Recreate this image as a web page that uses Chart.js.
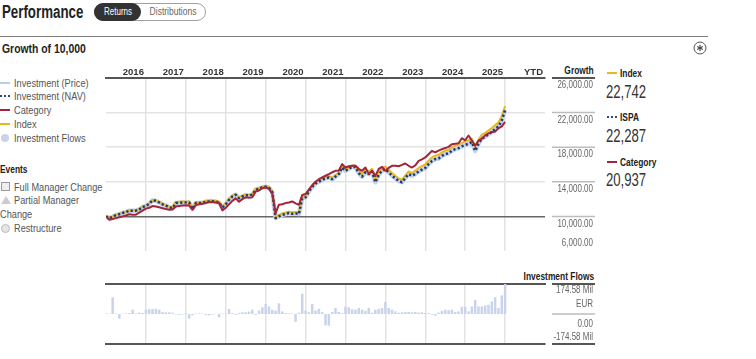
<!DOCTYPE html>
<html><head><meta charset="utf-8">
<script src="https://cdn.jsdelivr.net/npm/chart.js@4.4.1/dist/chart.umd.min.js"></script>
<style>
*{box-sizing:border-box}
body{margin:0;width:756px;height:359px;overflow:hidden;background:#fff;font-family:'Liberation Sans',Arial,sans-serif;color:#333;position:relative}
.a{position:absolute;white-space:nowrap;transform-origin:left center}
.r{transform-origin:right center;text-align:right}
.lg{left:14px;font-size:11.5px;line-height:14px;color:#555;transform:scaleX(.8)}
.hb{font-size:10.5px;line-height:14px;font-weight:bold;color:#222;transform:scaleX(.8)}
.big{left:606px;font-size:17.5px;line-height:21px;color:#333;transform:scaleX(.75)}
.sym{position:absolute}
canvas{position:absolute;left:0}
</style></head><body>
<div class="a" style="left:2px;top:1px;font-size:17.5px;line-height:22px;font-weight:bold;color:#222;transform:scaleX(.76)">Performance</div>
<div class="a" style="left:94px;top:3px;width:112px;height:18px;border:1px solid #a0a0a0;border-radius:9px"></div>
<div class="a" style="left:94px;top:3px;width:47px;height:18px;border-radius:9px;background:#333"></div>
<div class="a" style="left:117.5px;top:3px;color:#fff;font-size:10px;line-height:18px;transform:translateX(-50%) scaleX(.8);transform-origin:center">Returns</div>
<div class="a" style="left:173px;top:3px;color:#666;font-size:10px;line-height:18px;transform:translateX(-50%) scaleX(.85);transform-origin:center">Distributions</div>
<div class="a" style="left:0;top:36px;width:708px;height:1px;background:#808080"></div>
<div class="a" style="left:2px;top:40px;font-size:13.5px;line-height:17px;font-weight:bold;color:#222;transform:scaleX(.77)">Growth of 10,000</div>
<svg class="a" style="left:693px;top:41px" width="14" height="14" viewBox="0 0 14 14">
 <circle cx="7" cy="7" r="6" fill="none" stroke="#555" stroke-width="1"/>
 <g stroke="#444" stroke-width="1.1"><line x1="7" y1="3.8" x2="7" y2="10.2"/><line x1="4.2" y1="5.4" x2="9.8" y2="8.6"/><line x1="4.2" y1="8.6" x2="9.8" y2="5.4"/></g>
</svg>

<div class="sym" style="left:0;top:82px;width:10px;height:2px;background:#b9cce8"></div>
<div class="a lg" style="top:76px">Investment (Price)</div>
<div class="sym" style="left:0;top:95px;width:10px;height:0;border-top:2px dotted #2b4a85"></div>
<div class="a lg" style="top:89px">Investment (NAV)</div>
<div class="sym" style="left:0;top:109px;width:10px;height:2px;background:#a3243b"></div>
<div class="a lg" style="top:103px">Category</div>
<div class="sym" style="left:0;top:123px;width:10px;height:2px;background:#e8b820"></div>
<div class="a lg" style="top:116.5px">Index</div>
<div class="sym" style="left:1px;top:134px;width:8px;height:8px;border-radius:50%;background:#c9d3ea"></div>
<div class="a lg" style="top:131px">Investment Flows</div>
<div class="a hb" style="left:0;top:162px">Events</div>
<div class="sym" style="left:1px;top:182px;width:9px;height:9px;border:1px solid #999;background:#eee"></div>
<div class="a lg" style="top:179.5px">Full Manager Change</div>
<div class="sym" style="left:1px;top:196px;width:0;height:0;border-left:5px solid transparent;border-right:5px solid transparent;border-bottom:8px solid #ccc"></div>
<div class="a lg" style="top:193px">Partial Manager</div>
<div class="a lg" style="top:207px;left:0">Change</div>
<div class="sym" style="left:1px;top:224px;width:9px;height:9px;border-radius:50%;border:1px solid #bbb;background:#e6e6e6"></div>
<div class="a lg" style="top:221px">Restructure</div>

<div class="a hb r" style="right:162px;top:63px">Growth</div>
<div class="a hb r" style="right:162px;top:269px">Investment Flows</div>

<div class="sym" style="left:607px;top:72px;width:10px;height:2px;background:#e8b820"></div>
<div class="a hb" style="left:620px;top:66px">Index</div>
<div class="a big" style="top:82px">22,742</div>
<div class="sym" style="left:607px;top:116px;width:10px;height:0;border-top:2px dotted #2b4a85"></div>
<div class="a hb" style="left:620px;top:110px">ISPA</div>
<div class="a big" style="top:126px">22,287</div>
<div class="sym" style="left:607px;top:161px;width:10px;height:2px;background:#a3243b"></div>
<div class="a hb" style="left:620px;top:154.5px">Category</div>
<div class="a big" style="top:170px">20,937</div>

<canvas id="c1" width="756" height="260" style="top:0"></canvas>
<canvas id="c2" width="756" height="99" style="top:260px"></canvas>

<script>
const FONT = "'Liberation Sans', Arial, sans-serif";

// x positions: month index, 0 = Dec 2015, 12 = Dec 2016 ... 120 = Dec 2025, 132 = end of YTD column
const yearLabels = ['2016','2017','2018','2019','2020','2021','2022','2023','2024','2025','YTD'];
const growthTicks = [26000, 22000, 18000, 14000, 10000, 6000];
const flowMax = 174.58;
const flowTickLabels = ['174.58 Mil', 'EUR', '0.00', '-174.58 Mil'];

const investmentNav = [
 10000, 9800, 9950,10150,10250,10390,10500,10660,10650,10660,10800,11080,
 11200,11460,11850,11800,11610,11400,11250,11050,10960,11540,11580,11610,
 11600,11620,10850,11540,11540,11560,11700,11730,11750,11700,11600,11040,
 11400,11920,12300,12500,12100,12300,12450,12400,12500,13080,13200,13350,
 13430,13300,12800, 9810,10000,10190,10270,10390,10300,10350,10270,12080,
 12200,12880,13400,13800,14000,14200,14400,14500,14310,14600,14890,15650,
 15270,15500,15730,15700,15000,14600,15100,14900,15200,13950,14800,15300,
 15460,15100,14700,14400,14100,13950,14450,14890,14700,14900,15200,15400,
 15600,16040,16400,16620,16700,17000,17190,17300,17600,17770,17900,18100,
 18270,18400,18600,17580,18400,19000,19200,19500,19770,20100,20400,21100,
 22287];

const indexSeries = [
 10000, 9840, 9990,10200,10300,10440,10550,10710,10700,10710,10850,11130,
 11250,11510,11900,11850,11660,11450,11300,11100,11010,11640,11680,11710,
 11700,11720,10950,11640,11640,11660,11800,11830,11850,11800,11700,11140,
 11500,12020,12400,12600,12200,12400,12550,12500,12600,13180,13300,13450,
 13530,13400,12950, 9960,10150,10340,10420,10540,10450,10500,10420,12230,
 12350,13030,13550,13950,14150,14350,14550,14650,14460,14750,15040,15800,
 15420,15650,15880,15850,15300,14900,15400,15200,15500,14250,15100,15600,
 15760,15400,15000,14700,14400,14250,14750,15190,15000,15300,15600,15800,
 16000,16440,16800,17020,17100,17400,17590,17700,18000,18170,18300,18500,
 18670,18800,19000,18030,18850,19450,19650,19950,20220,20550,20850,21600,
 22742];

const category = [
 10000, 9620, 9700, 9800, 9900,10000,10100,10250,10200,10200,10450,10660,
 10900,11000,11200,11150,11050,10950,10850,10770,10800,11150,11200,11250,
 11300,11250,10770,11300,11400,11450,11550,11660,11660,11600,11550,10700,
 11000,11390,11800,12080,11700,12000,12200,12150,12200,12880,13000,13270,
 13350,13200,12600,10390,11350,11400,11540,11600,11730,11500,11350,12470,
 12580,13100,13600,14000,14300,14500,14700,14890,15100,15270,15300,16040,
 15650,15800,15850,15850,15500,15270,15650,14890,15270,14690,15500,15730,
 15270,15600,15850,15850,15800,15950,16120,15850,15650,15900,16420,16600,
 16810,17190,17580,17400,17600,17770,17900,18040,18350,18400,18460,19040,
 18800,19350,18770,18160,18770,19000,19360,19600,19770,19800,20190,20400,
 20937];

// investment flows, millions EUR
const flows = [
   6,  2, 97,  3,-27,  2,  3,  5, 25,  4,  8,  6,
  25, 28, 28, 30, 25, 12, 10, 10,  8, -3, -5, -3,
   5,-27, -8,  3,  4,  2, -6, -8, -4,  2,-20,  3,
   2, 29,  5, -5,  6, 10, 10, 14, 25, -6, 20, 39,
  58, 44, 25, 20, 62, 15,  6,  4,  3,-46,  8,118,
  20, 10, 58, 20, 30, 12,-66,-68, 12, 35, 12,  5,
  44, 38, 28, 25, 35, 25, 18, 35,  8, 25, 30, 35,
  70, 35, 25, 15,  8, 10, 12, 12, 10, 12,  8, 10,
   6,  5, -5,-10,  8, 18, 25, 22, 25, 12, 15, 42,
  42, 15, 44, 81, 44, 44, 50, 54, 73, 98, 35,108,
 174.58];

const pts = arr => arr.map((v, i) => ({x: i, y: v}));
const X_MAX = 132;
const gridX = {
  color: c => (c.tick && (c.tick.value === 0 || c.tick.value === X_MAX)) ? 'rgba(0,0,0,0)' : '#e3e3e3',
  lineWidth: 1.5, drawTicks: false, offset: false
};
const fmt2 = v => v.toLocaleString('en-US', {minimumFractionDigits: 2, maximumFractionDigits: 2});
function narrowText(ctx, txt, x, y, sx) {
  ctx.save(); ctx.translate(x, y); ctx.scale(sx, 1); ctx.fillText(txt, 0, 0); ctx.restore();
}

const growthLabels = {
  id: 'growthLabels',
  afterDraw(chart) {
    const {ctx} = chart, y = chart.scales.y;
    ctx.save();
    ctx.font = '10px ' + FONT;
    ctx.fillStyle = '#666';
    ctx.textAlign = 'right';
    ctx.textBaseline = 'middle';
    const last = growthTicks.length - 1;
    growthTicks.forEach((v, i) => {
      const py = y.getPixelForValue(v);
      if (i < last) {
        ctx.strokeStyle = i === 0 ? '#555' : '#bdbdbd';
        ctx.lineWidth = i === 0 ? 2 : 1.5;
        ctx.beginPath(); ctx.moveTo(552, py); ctx.lineTo(595, py); ctx.stroke();
      }
      narrowText(ctx, fmt2(v), 593, i === last ? py - 7.5 : py + 7.5, 0.8);
    });
    ctx.restore();
  }
};

const flowLabels = {
  id: 'flowLabels',
  afterDraw(chart) {
    const {ctx} = chart, y = chart.scales.y;
    const pTop = y.getPixelForValue(flowMax), pZero = y.getPixelForValue(0), pBot = y.getPixelForValue(-flowMax);
    ctx.save();
    [[pTop, '#555', 2], [pZero, '#bdbdbd', 1.5], [pBot, '#555', 2]].forEach(([py, c, w]) => {
      ctx.strokeStyle = c; ctx.lineWidth = w;
      ctx.beginPath(); ctx.moveTo(552, py); ctx.lineTo(595, py); ctx.stroke();
    });
    ctx.font = '10px ' + FONT;
    ctx.fillStyle = '#666';
    ctx.textAlign = 'right';
    ctx.textBaseline = 'middle';
    narrowText(ctx, flowTickLabels[0], 593, pTop + 6, 0.8);
    narrowText(ctx, flowTickLabels[1], 593, pTop + 20, 0.8);
    narrowText(ctx, flowTickLabels[2], 593, pZero + 10, 0.8);
    narrowText(ctx, flowTickLabels[3], 593, pBot - 6.5, 0.8);
    ctx.restore();
  }
};

new Chart(document.getElementById('c1'), {
  type: 'line',
  data: {datasets: [
    {label: 'Category', data: pts(category), borderColor: '#a3243b', borderWidth: 2, order: 0},
    {label: 'Investment (NAV)', data: pts(investmentNav), borderColor: '#1e3a6e', borderWidth: 2.5, borderDash: [2.2, 2.2], order: 1},
    {label: 'Index', data: pts(indexSeries), borderColor: '#e8b820', borderWidth: 2, order: 2},
    {label: 'Investment (Price)', data: pts(investmentNav), borderColor: '#c3d3ec', borderWidth: 4.5, borderJoinStyle: 'round', order: 3}
  ]},
  options: {
    responsive: false, animation: false, devicePixelRatio: 1,
    layout: {padding: {left: 106, right: 211, top: 64, bottom: 9}},
    elements: {point: {radius: 0}, line: {tension: 0, borderJoinStyle: 'round'}},
    plugins: {legend: {display: false}, tooltip: {enabled: false}},
    scales: {
      x: {type: 'linear', position: 'top', min: 0, max: X_MAX, offset: false,
          afterFit: s => { s.height = 14; },
          ticks: {stepSize: 12, autoSkip: false, maxRotation: 0, align: 'end', labelOffset: -2, padding: 0,
                  color: '#333', font: {family: FONT, size: 9.5, weight: 'bold'},
                  callback: v => v === 0 ? '' : yearLabels[v / 12 - 1]},
          grid: gridX, border: {display: true, color: '#555', width: 2}},
      y: {type: 'linear', position: 'right', min: growthTicks[growthTicks.length - 1], max: growthTicks[0],
          afterFit: s => { s.width = 0; },
          ticks: {display: false, stepSize: 4000},
          grid: {color: c => c.tick.value === 10000 ? '#666' : (c.tick.value === 26000 || c.tick.value === 6000) ? 'rgba(0,0,0,0)' : '#e3e3e3',
                 lineWidth: 1.5, drawTicks: false},
          border: {display: false}}
    }
  },
  plugins: [growthLabels]
});

new Chart(document.getElementById('c2'), {
  type: 'bar',
  data: {datasets: [{label: 'Investment Flows', data: pts(flows), backgroundColor: '#c9d3ea', borderWidth: 0,
                     barPercentage: 0.75, categoryPercentage: 1}]},
  options: {
    responsive: false, animation: false, devicePixelRatio: 1,
    layout: {padding: {left: 106, right: 211, top: 24, bottom: 15}},
    plugins: {legend: {display: false}, tooltip: {enabled: false}},
    scales: {
      x: {type: 'linear', position: 'bottom', min: 0, max: X_MAX, offset: false, afterFit: s => { s.height = 0; },
          ticks: {display: false, stepSize: 12}, grid: gridX, border: {display: true, color: '#555', width: 2}},
      x2: {type: 'linear', axis: 'x', position: 'top', min: 0, max: X_MAX, offset: false, afterFit: s => { s.height = 0; },
           ticks: {display: false}, grid: {display: false}, border: {display: true, color: '#555', width: 2}},
      y: {type: 'linear', position: 'right', min: -flowMax, max: flowMax, afterFit: s => { s.width = 0; },
          ticks: {display: false}, grid: {display: false}, border: {display: false}}
    }
  },
  plugins: [flowLabels]
});
</script>
</body></html>
